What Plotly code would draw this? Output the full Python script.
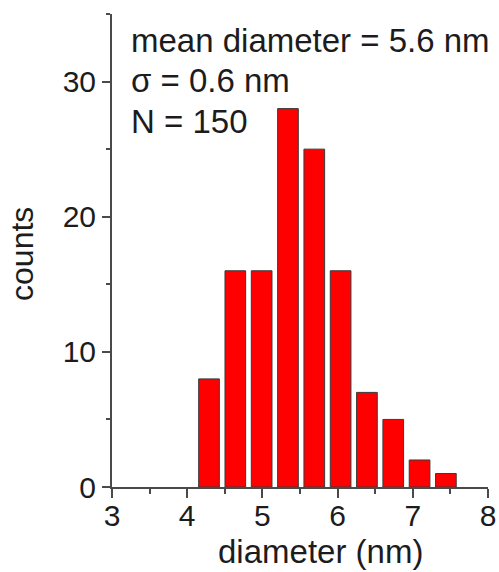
import plotly.graph_objects as go

# Histogram of particle diameters (bin centres in nm) and counts per bin
diameter_nm = [4.29, 4.64, 4.99, 5.34, 5.69, 6.04, 6.39, 6.74, 7.09, 7.44]
counts = [8, 16, 16, 28, 25, 16, 7, 5, 2, 1]
stats_lines = ["mean diameter = 5.6 nm", "σ = 0.6 nm", "N = 150"]
x_title = "diameter (nm)"
y_title = "counts"

FONT = "Liberation Sans, Arial, sans-serif"
AXIS = "#4a4a4a"
TEXT = "#1c1c1c"

fig = go.Figure(
    go.Bar(
        x=diameter_nm,
        y=counts,
        width=0.275,
        marker=dict(color="#ff0000", line=dict(color="#3a3a3a", width=1)),
        hoverinfo="x+y",
    )
)

fig.update_layout(
    width=499,
    height=572,
    margin=dict(l=112, r=11, t=14, b=85),
    plot_bgcolor="white",
    paper_bgcolor="white",
    showlegend=False,
    font=dict(family=FONT, size=30, color=TEXT),
)

fig.update_xaxes(
    range=[3, 8],
    tickmode="linear", tick0=3, dtick=1,
    ticks="outside", ticklen=9, tickwidth=2, tickcolor=AXIS,
    minor=dict(tick0=3, dtick=0.5, ticks="outside", ticklen=5,
               tickwidth=2, tickcolor=AXIS, showgrid=False),
    showline=True, linecolor=AXIS, linewidth=2,
    showgrid=False, zeroline=False, automargin=False,
    ticklabelstandoff=-8,
    tickfont=dict(size=30, color=TEXT),
)

fig.update_yaxes(
    range=[0, 35],
    tickmode="linear", tick0=0, dtick=10,
    ticks="outside", ticklen=8, tickwidth=2, tickcolor=AXIS,
    minor=dict(tick0=0, dtick=5, ticks="outside", ticklen=4,
               tickwidth=2, tickcolor=AXIS, showgrid=False),
    showline=True, linecolor=AXIS, linewidth=2,
    showgrid=False, zeroline=False, automargin=False,
    tickfont=dict(size=30, color=TEXT),
)

# Statistics block in the upper left of the plot area, one line each
for line, ypos in zip(stats_lines, [0.945, 0.860, 0.7735]):
    fig.add_annotation(
        text=line,
        xref="paper", yref="paper", x=0.045, y=ypos,
        xanchor="left", yanchor="middle", align="left",
        showarrow=False, font=dict(size=33, color=TEXT, family=FONT),
    )

# Axis titles
fig.add_annotation(
    text=x_title, xref="paper", yref="paper", x=0.5545, y=-0.137,
    xanchor="center", yanchor="middle", showarrow=False,
    font=dict(size=33, color=TEXT, family=FONT),
)
fig.add_annotation(
    text=y_title, xref="paper", yref="paper", x=-0.239, y=0.493,
    xanchor="center", yanchor="middle", textangle=-90, showarrow=False,
    font=dict(size=32, color=TEXT, family=FONT),
)

fig.write_html("out.html")
